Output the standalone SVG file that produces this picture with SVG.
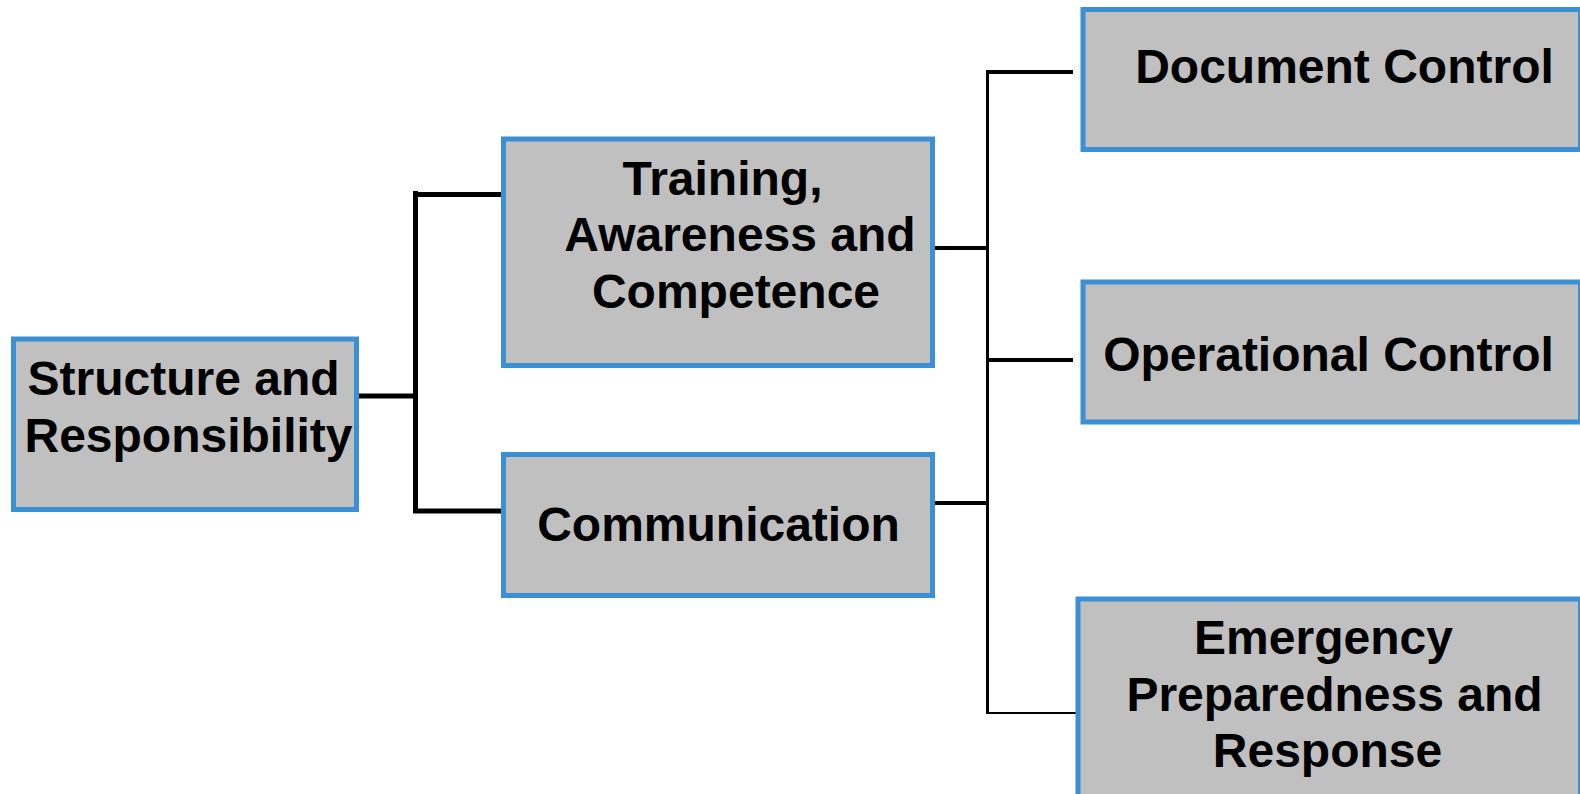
<svg xmlns="http://www.w3.org/2000/svg" width="1580" height="794" viewBox="0 0 1580 794">
<style>
.box{fill:#c0c0c0;stroke:#3b8fd5;stroke-width:5}
.t{font-family:"Liberation Sans",Arial,sans-serif;font-weight:bold;font-size:48px;fill:#000;text-anchor:middle}
.c{stroke:#000;stroke-width:5;fill:none}
</style>
<rect width="1580" height="794" fill="#fff"/>
<g id="connectors">
<path class="c" d="M359 396H415.5M415.5 191V513.5M415.5 194.5H501M415.5 511H501"/>
<path class="c" style="stroke-width:4" d="M935 248H987M935 503H987M987 72H1073M987 360H1073"/>
<path class="c" style="stroke-width:3" d="M987.5 70V714"/>
<path class="c" style="stroke-width:2" d="M987 713H1081"/>
</g>
<g id="n1"><rect class="box" x="13.5" y="339" width="343" height="170.5"/>
<text class="t" x="183.5" y="395">Structure and</text><text class="t" x="188.5" y="451.5">Responsibility</text></g>
<g id="n2"><rect class="box" x="503.5" y="139" width="429" height="226.5"/>
<text class="t" x="722.5" y="194.5">Training,</text><text class="t" x="740" y="251">Awareness and</text><text class="t" x="736" y="307.5">Competence</text></g>
<g id="n3"><rect class="box" x="503.5" y="454.5" width="429" height="141"/>
<text class="t" x="718.5" y="541">Communication</text></g>
<g id="n4"><rect class="box" x="1083" y="9.5" width="497.5" height="140"/>
<text class="t" x="1344.5" y="82.5">Document Control</text></g>
<g id="n5"><rect class="box" x="1083" y="282" width="497.5" height="140"/>
<text class="t" x="1328.5" y="371">Operational Control</text></g>
<g id="n6"><rect class="box" x="1078" y="599" width="502.5" height="210"/>
<text class="t" x="1323.5" y="654">Emergency</text><text class="t" x="1334.5" y="710.5">Preparedness and</text><text class="t" x="1327.5" y="767">Response</text></g>
</svg>
